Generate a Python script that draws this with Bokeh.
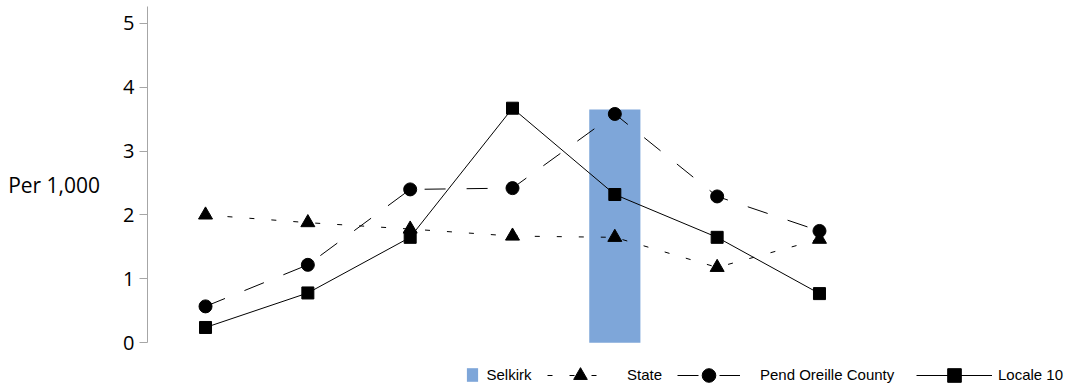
from bokeh.plotting import figure
from bokeh.models import Range1d, FixedTicker, Legend, LegendItem
from bokeh.embed import file_html
from bokeh.resources import INLINE

# ---- data ----
periods = [0, 1, 2, 3, 4, 5, 6]
selkirk = [None, None, None, None, 3.65, None, None]
state = [2.00, 1.88, 1.78, 1.67, 1.65, 1.18, 1.62]
pend_oreille = [0.57, 1.22, 2.40, 2.42, 3.58, 2.29, 1.75]
locale10 = [0.24, 0.78, 1.65, 3.67, 2.32, 1.65, 0.77]
y_ticks = [0, 1, 2, 3, 4, 5]
series_names = ["Selkirk", "State", "Pend Oreille County", "Locale 10"]

BAR_COLOR = "#7EA6D9"
AXIS_GREY = "#A6A6A6"

p = figure(width=1066, height=384, output_backend="svg", toolbar_location=None,
           title=None, x_range=Range1d(-0.567, 8.414), y_range=Range1d(-0.652, 5.355),
           x_axis_location=None, min_border_left=147, min_border_right=0,
           min_border_top=0, min_border_bottom=0)
p.outline_line_color = None
p.grid.grid_line_color = None
p.background_fill_color = "white"
p.border_fill_color = "white"

# y axis
ya = p.yaxis[0]
ya.ticker = FixedTicker(ticks=y_ticks)
ya.bounds = (0, 5.26)
ya.axis_line_color = AXIS_GREY
ya.major_tick_line_color = AXIS_GREY
ya.minor_tick_line_color = None
ya.major_tick_in = 0
ya.major_tick_out = 8
ya.major_label_standoff = 5
ya.major_label_text_font = "Open Sans"
ya.major_label_text_font_size = "20px"
ya.major_label_text_color = "black"
ya.axis_label = "Per 1,000\n"
ya.axis_label_orientation = "horizontal"
ya.axis_label_text_font = "Open Sans"
ya.axis_label_text_font_size = "21px"
ya.axis_label_text_font_style = "normal"
ya.axis_label_text_color = "black"
ya.axis_label_text_line_height = 0.55
ya.axis_label_standoff = 20

# bar (Selkirk)
bx = [x for x, v in zip(periods, selkirk) if v is not None]
bt = [v for v in selkirk if v is not None]
bar = p.vbar(x=bx, top=bt, bottom=0, width=0.5, fill_color=BAR_COLOR, line_color=None)

# State
st_l = p.line(periods, state, line_color="black", line_width=1, line_dash="5 17")
st_m = p.scatter(periods, state, marker="triangle", size=14,
                 fill_color="black", line_color="black")
# Pend Oreille County
po_l = p.line(periods, pend_oreille, line_color="black", line_width=1, line_dash="21 21")
po_m = p.scatter(periods, pend_oreille, marker="circle", size=13,
                 fill_color="black", line_color="black")
# Locale 10
lo_l = p.line(periods, locale10, line_color="black", line_width=1)
lo_m = p.scatter(periods, locale10, marker="square", size=12,
                 fill_color="black", line_color="black")


def make_legend(label, renderers, vx, vy, gw, gh, standoff):
    lg = Legend(items=[LegendItem(label=label, renderers=renderers)],
                location=(vx, vy), orientation="horizontal",
                glyph_width=gw, glyph_height=gh, label_height=gh,
                label_standoff=standoff, padding=0, spacing=0, margin=0,
                border_line_alpha=0, background_fill_alpha=0,
                label_text_font="Liberation Sans", label_text_font_size="15px",
                label_text_color="black")
    p.add_layout(lg, "center")


make_legend(series_names[0], [bar], 317.5, 1, 14, 17, 8)
make_legend(series_names[1], [st_l, st_m], 400, -7.5, 66, 34, 14)
make_legend(series_names[2], [po_l, po_m], 530, -7.5, 63, 34, 20)
make_legend(series_names[3], [lo_l, lo_m], 769, -7.5, 76, 34, 6)

open("out.html", "w").write(file_html(p, INLINE))
